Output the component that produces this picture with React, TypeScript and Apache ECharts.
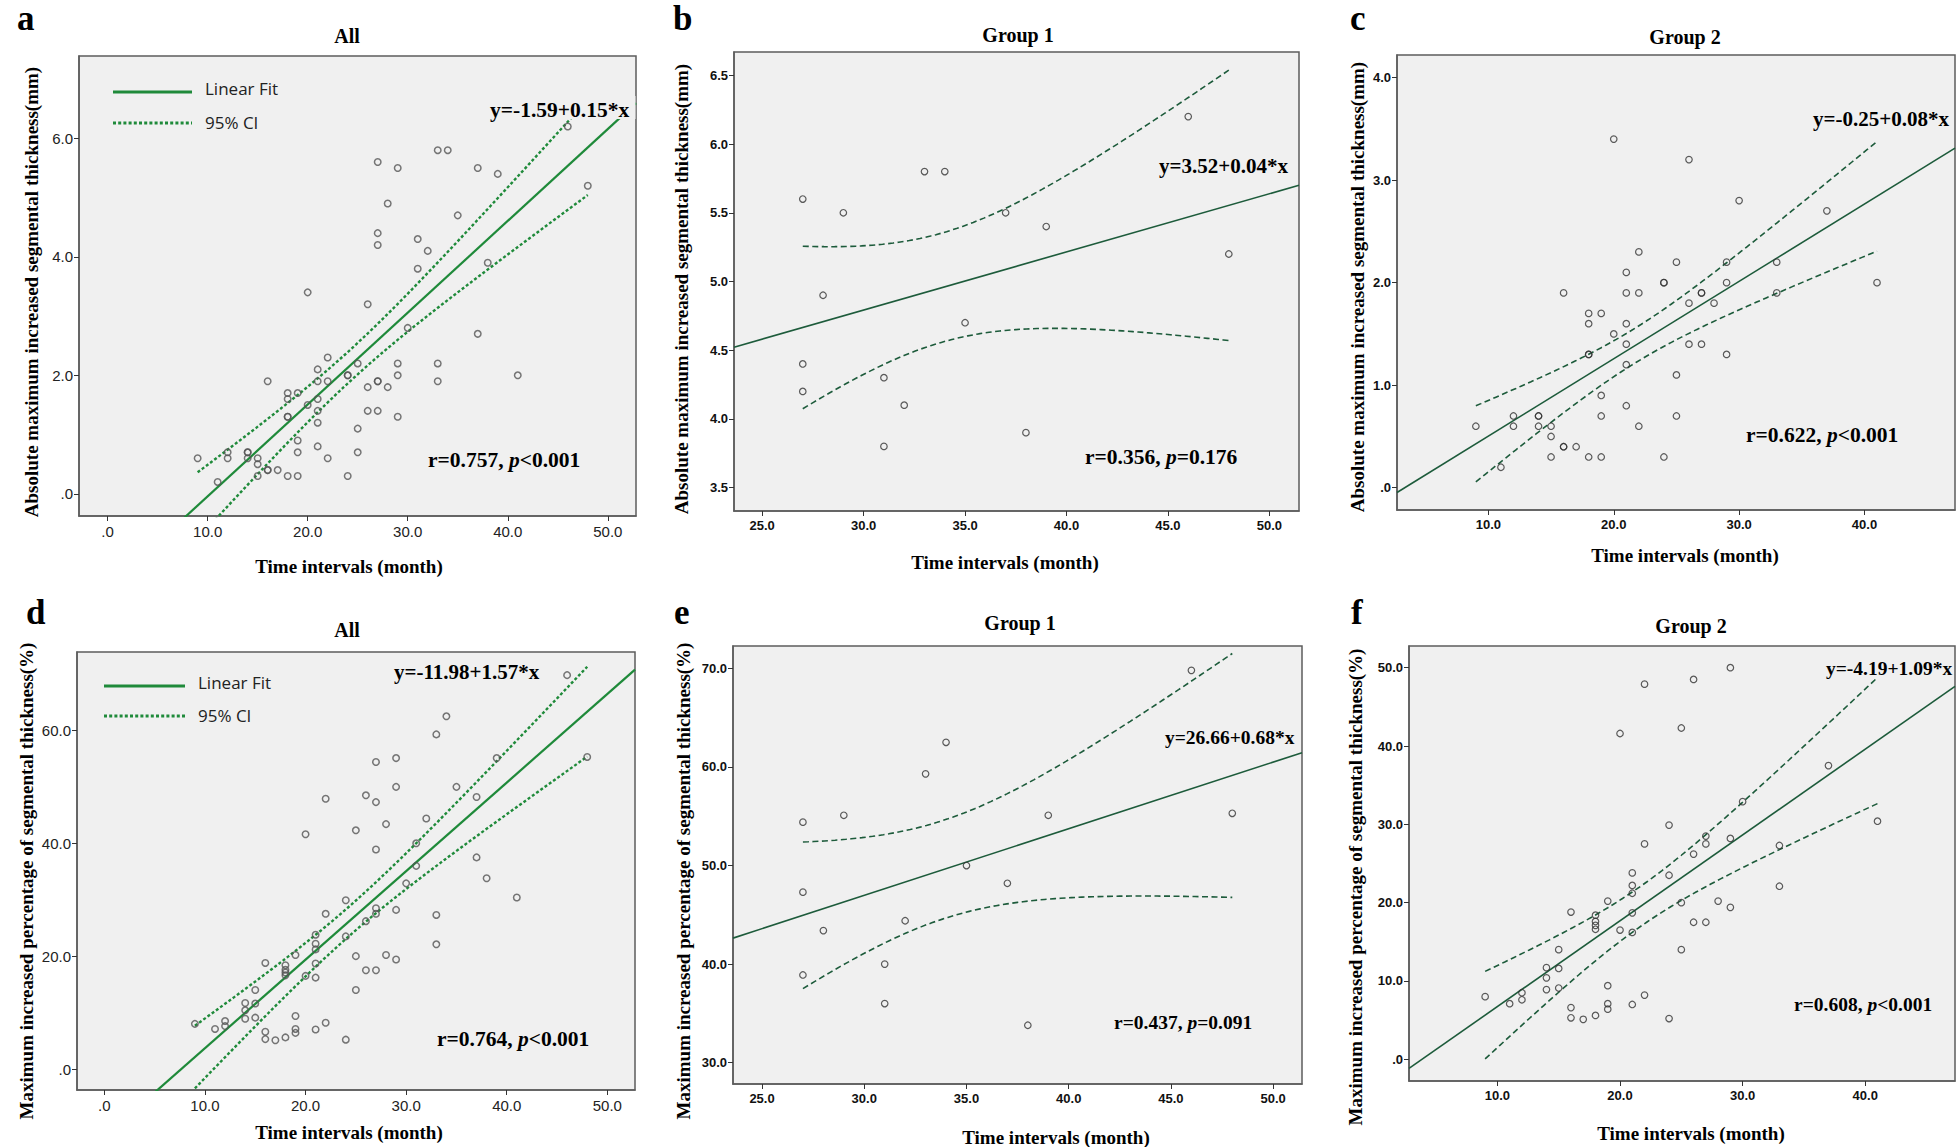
import React, { useEffect, useRef } from "react";
import * as echarts from "echarts";

// ---------- data ----------
// Group 1 (n = 16): time interval (month), absolute increase (mm), percentage increase (%)
const G1_MONTHS = [27, 29, 33, 34, 37, 39, 46, 48, 28, 35, 27, 27, 31, 32, 31, 38];
const G1_ABS_MM = [5.6, 5.5, 5.8, 5.8, 5.5, 5.4, 6.2, 5.2, 4.9, 4.7, 4.4, 4.2, 4.3, 4.1, 3.8, 3.9];
const G1_PCT = [54.4, 55.1, 59.3, 62.5, 48.2, 55.1, 69.8, 55.3, 43.4, 50.0, 47.3, 38.9, 40.0, 44.4, 36.0, 33.8];

// Group 2 (n = 55)
const G2_MONTHS = [9, 11, 12, 12, 14, 14, 14, 15, 15, 15, 16, 16, 16, 17, 18, 18, 18, 18, 18, 19, 19, 19, 19, 20, 20, 21, 21, 21, 21, 21, 21, 22, 22, 22, 24, 24, 24, 25, 25, 25, 26, 26, 26, 27, 27, 27, 28, 29, 29, 29, 30, 33, 33, 37, 41];
const G2_ABS_MM = [0.6, 0.2, 0.7, 0.6, 0.7, 0.7, 0.6, 0.6, 0.5, 0.3, 1.9, 0.4, 0.4, 0.4, 1.7, 1.6, 1.3, 1.3, 0.3, 1.7, 0.9, 0.7, 0.3, 3.4, 1.5, 2.1, 1.9, 1.6, 1.4, 1.2, 0.8, 2.3, 1.9, 0.6, 2.0, 2.0, 0.3, 2.2, 1.1, 0.7, 3.2, 1.8, 1.4, 1.9, 1.9, 1.4, 1.8, 2.2, 2.0, 1.3, 2.8, 2.2, 1.9, 2.7, 2.0];
const G2_PCT = [8.0, 7.1, 8.5, 7.6, 11.7, 10.4, 8.9, 14.0, 11.6, 9.1, 18.8, 6.6, 5.3, 5.1, 18.4, 17.6, 17.1, 16.6, 5.6, 20.2, 9.4, 7.1, 6.4, 41.6, 16.5, 23.8, 22.2, 21.2, 18.7, 16.2, 7.0, 47.9, 27.5, 8.2, 29.9, 23.5, 5.2, 42.3, 20.0, 14.0, 48.5, 26.2, 17.5, 28.5, 27.5, 17.5, 20.2, 50.0, 28.2, 19.4, 32.9, 27.3, 22.1, 37.5, 30.4];

// tick values
const X_TICKS_ALL = [0, 10, 20, 30, 40, 50];
const X_TICKS_G1 = [25, 30, 35, 40, 45, 50];
const X_TICKS_G2 = [10, 20, 30, 40];
const Y_TICKS_ABS_ALL = [0, 2, 4, 6];
const Y_TICKS_ABS_G1 = [3.5, 4, 4.5, 5, 5.5, 6, 6.5];
const Y_TICKS_ABS_G2 = [0, 1, 2, 3, 4];
const Y_TICKS_PCT_ALL = [0, 20, 40, 60];
const Y_TICKS_PCT_G1 = [30, 40, 50, 60, 70];
const Y_TICKS_PCT_G2 = [0, 10, 20, 30, 40, 50];

// texts
const EQUATIONS = ["y=-1.59+0.15*x", "y=3.52+0.04*x", "y=-0.25+0.08*x", "y=-11.98+1.57*x", "y=26.66+0.68*x", "y=-4.19+1.09*x"];
const R_TEXTS = [["r=0.757, ", "<0.001"], ["r=0.356, ", "=0.176"], ["r=0.622, ", "<0.001"], ["r=0.764, ", "<0.001"], ["r=0.437, ", "=0.091"], ["r=0.608, ", "<0.001"]];
const PANEL_LETTERS = ["a", "b", "c", "d", "e", "f"];
const PANEL_TITLES = ["All", "Group 1", "Group 2", "All", "Group 1", "Group 2"];
const Y_TITLE_ABS = "Absolute maximum increased segmental thickness(mm)";
const Y_TITLE_PCT = "Maximum increased percentage of segmental thickness(%)";
const X_TITLE = "Time intervals (month)";

const SERIF = '"Liberation Serif","Times New Roman",serif';
const SANS = '"Liberation Sans",Arial,sans-serif';
const LEGEND_FONT = '"Open Sans","Noto Sans",sans-serif';

const BRIGHT_GREEN = "#1f8a3a";
const DARK_GREEN = "#1d5b3b";
const PLOT_BG = "#f0f0f0";

// ---------- statistics (ordinary least squares + 95% CI of mean) ----------
function tQuantile975(df: number) {
  const z = 1.959964;
  const z3 = z ** 3, z5 = z ** 5, z7 = z ** 7, z9 = z ** 9;
  const g1 = (z3 + z) / 4;
  const g2 = (5 * z5 + 16 * z3 + 3 * z) / 96;
  const g3 = (3 * z7 + 19 * z5 + 17 * z3 - 15 * z) / 384;
  const g4 = (79 * z9 + 776 * z7 + 1482 * z5 - 1920 * z3 - 945 * z) / 92160;
  return z + g1 / df + g2 / df ** 2 + g3 / df ** 3 + g4 / df ** 4;
}

function fit(xs: number[], ys: number[]) {
  const n = xs.length;
  const mx = xs.reduce((a, b) => a + b, 0) / n;
  const my = ys.reduce((a, b) => a + b, 0) / n;
  let sxx = 0, sxy = 0;
  for (let i = 0; i < n; i++) {
    sxx += (xs[i] - mx) ** 2;
    sxy += (xs[i] - mx) * (ys[i] - my);
  }
  const b = sxy / sxx;
  const a = my - b * mx;
  let sse = 0;
  for (let i = 0; i < n; i++) sse += (ys[i] - a - b * xs[i]) ** 2;
  const s = Math.sqrt(sse / (n - 2));
  const t = tQuantile975(n - 2);
  return { a, b, s, t, n, mx, sxx, minX: Math.min(...xs), maxX: Math.max(...xs) };
}

type Layout = {
  grid: { left: number; top: number; width: number; height: number };
  xRange: [number, number];
  yRange: [number, number];
  letter: [number, number];
  title: [number, number];
  eq: [number, number];
  eqSize: number;
  r: [number, number];
  rSize: number;
  xName: [number, number];
  yName: [number, number];
  legend?: { x1: number; x2: number; y1: number; y2: number; tx: number };
  eqBg?: { x: number; y: number; width: number; height: number };
};

const LAYOUTS: Layout[] = [
  { grid: { left: 79, top: 56, width: 557, height: 460 }, xRange: [-2.86, 52.82], yRange: [-0.375, 7.39], letter: [17, 1], title: [347, 36], eq: [490, 110], eqSize: 21.5, r: [428, 460], rSize: 21.5, xName: [349, 566], yName: [31, 292], legend: { x1: 113, x2: 192, y1: 92, y2: 123, tx: 205 }, eqBg: { x: 486, y: 96, width: 149.5, height: 23 } },
  { grid: { left: 734, top: 52, width: 565, height: 459 }, xRange: [23.61, 51.46], yRange: [3.33, 6.67], letter: [673, 1], title: [1018, 35], eq: [1159, 166], eqSize: 21, r: [1085, 457], rSize: 21.5, xName: [1005, 562], yName: [681, 289] },
  { grid: { left: 1397, top: 55, width: 558, height: 455 }, xRange: [2.71, 47.22], yRange: [-0.217, 4.22], letter: [1350, 1], title: [1685, 37], eq: [1813, 119], eqSize: 21, r: [1746, 435], rSize: 21.5, xName: [1685, 555], yName: [1357, 287] },
  { grid: { left: 77, top: 652, width: 558, height: 438 }, xRange: [-2.72, 52.75], yRange: [-3.72, 73.9], letter: [26, 595], title: [347, 630], eq: [394, 672], eqSize: 21, r: [437, 1039], rSize: 21.5, xName: [349, 1132], yName: [26, 881], legend: { x1: 104, x2: 185, y1: 686, y2: 716, tx: 198 } },
  { grid: { left: 733, top: 646, width: 569, height: 438 }, xRange: [23.58, 51.41], yRange: [27.84, 72.27], letter: [674, 595], title: [1020, 623], eq: [1165, 737], eqSize: 19.5, r: [1114, 1022], rSize: 19.5, xName: [1056, 1137], yName: [683, 881] },
  { grid: { left: 1409, top: 646, width: 546, height: 435 }, xRange: [2.79, 47.32], yRange: [-2.77, 52.77], letter: [1351, 595], title: [1691, 626], eq: [1826, 668], eqSize: 19.5, r: [1794, 1004], rSize: 19.5, xName: [1691, 1133], yName: [1355, 887] },
];

const PANEL_DATA = [
  { xs: [...G1_MONTHS, ...G2_MONTHS], ys: [...G1_ABS_MM, ...G2_ABS_MM], xTicks: X_TICKS_ALL, yTicks: Y_TICKS_ABS_ALL, yTitle: Y_TITLE_ABS, all: true },
  { xs: G1_MONTHS, ys: G1_ABS_MM, xTicks: X_TICKS_G1, yTicks: Y_TICKS_ABS_G1, yTitle: Y_TITLE_ABS, all: false },
  { xs: G2_MONTHS, ys: G2_ABS_MM, xTicks: X_TICKS_G2, yTicks: Y_TICKS_ABS_G2, yTitle: Y_TITLE_ABS, all: false },
  { xs: [...G1_MONTHS, ...G2_MONTHS], ys: [...G1_PCT, ...G2_PCT], xTicks: X_TICKS_ALL, yTicks: Y_TICKS_PCT_ALL, yTitle: Y_TITLE_PCT, all: true },
  { xs: G1_MONTHS, ys: G1_PCT, xTicks: X_TICKS_G1, yTicks: Y_TICKS_PCT_G1, yTitle: Y_TITLE_PCT, all: false },
  { xs: G2_MONTHS, ys: G2_PCT, xTicks: X_TICKS_G2, yTicks: Y_TICKS_PCT_G2, yTitle: Y_TITLE_PCT, all: false },
];

const fmt = (v: number) => (Math.abs(v) < 1e-9 ? ".0" : Number(v).toFixed(1));

function buildOption() {
  const grids: any[] = [];
  const xAxes: any[] = [];
  const yAxes: any[] = [];
  const series: any[] = [];
  const graphics: any[] = [];

  PANEL_DATA.forEach((p, i) => {
    const L = LAYOUTS[i];
    const color = p.all ? BRIGHT_GREEN : DARK_GREEN;
    const labelStyle = p.all
      ? { fontFamily: SANS, fontSize: 15, color: "#222" }
      : { fontFamily: SANS, fontSize: 13, fontWeight: "bold", color: "#111" };

    grids.push({ ...L.grid, show: true, backgroundColor: PLOT_BG, borderColor: "#5c5c5c", borderWidth: 1.5, containLabel: false });
    xAxes.push({
      type: "value", gridIndex: i, min: L.xRange[0], max: L.xRange[1],
      splitLine: { show: false },
      axisLine: { show: true, onZero: false, lineStyle: { color: "#5c5c5c", width: 1.5 } },
      axisTick: { show: true, length: 5, customValues: p.xTicks, lineStyle: { color: "#333" } },
      axisLabel: { customValues: p.xTicks, formatter: fmt, margin: 8, ...labelStyle },
    });
    yAxes.push({
      type: "value", gridIndex: i, min: L.yRange[0], max: L.yRange[1],
      splitLine: { show: false },
      axisLine: { show: true, onZero: false, lineStyle: { color: "#5c5c5c", width: 1.5 } },
      axisTick: { show: true, length: 5, customValues: p.yTicks, lineStyle: { color: "#333" } },
      axisLabel: { customValues: p.yTicks, formatter: fmt, margin: 6, ...labelStyle },
    });

    const f = fit(p.xs, p.ys);
    const yhat = (x: number) => f.a + f.b * x;
    const half = (x: number) => f.t * f.s * Math.sqrt(1 / f.n + (x - f.mx) ** 2 / f.sxx);
    const upper: number[][] = [];
    const lower: number[][] = [];
    const steps = 80;
    for (let k = 0; k <= steps; k++) {
      const x = f.minX + ((f.maxX - f.minX) * k) / steps;
      upper.push([x, yhat(x) + half(x)]);
      lower.push([x, yhat(x) - half(x)]);
    }
    const ciStyle = p.all
      ? { color, width: 2.4, type: [3, 2.2] }
      : { color, width: 1.6, type: [6, 3.5] };

    series.push({
      type: "scatter", xAxisIndex: i, yAxisIndex: i, symbol: "circle", symbolSize: 6.5, z: 4,
      itemStyle: { color: "rgba(0,0,0,0)", borderColor: p.all ? "#555" : "#333", borderWidth: p.all ? 1.5 : 1.2 },
      data: p.xs.map((x, k) => [x, p.ys[k]]),
    });
    series.push({
      type: "line", xAxisIndex: i, yAxisIndex: i, symbol: "none", showSymbol: false, clip: true, z: 3,
      lineStyle: { color, width: p.all ? 2.2 : 1.6 },
      data: [[L.xRange[0], yhat(L.xRange[0])], [L.xRange[1], yhat(L.xRange[1])]],
    });
    series.push({ type: "line", xAxisIndex: i, yAxisIndex: i, symbol: "none", showSymbol: false, clip: true, z: 3, lineStyle: ciStyle, data: upper });
    series.push({ type: "line", xAxisIndex: i, yAxisIndex: i, symbol: "none", showSymbol: false, clip: true, z: 3, lineStyle: ciStyle, data: lower });

    // panel letter
    graphics.push({ type: "text", x: L.letter[0], y: L.letter[1], z: 100,
      style: { text: PANEL_LETTERS[i], font: `bold 35px ${SERIF}`, fill: "#000", align: "left", verticalAlign: "top", textAlign: "left", textVerticalAlign: "top" } });
    // title
    graphics.push({ type: "text", x: L.title[0], y: L.title[1], z: 100,
      style: { text: PANEL_TITLES[i], font: `bold 20px ${SERIF}`, fill: "#000", align: "center", verticalAlign: "middle", textAlign: "center", textVerticalAlign: "middle" } });
    // equation (panel a: label box hides the lines behind it, as in the reference)
    if (L.eqBg) {
      graphics.push({ type: "rect", z: 99, shape: { ...L.eqBg }, style: { fill: PLOT_BG } });
    }
    graphics.push({ type: "text", x: L.eq[0], y: L.eq[1], z: 100,
      style: { text: EQUATIONS[i], font: `bold ${L.eqSize}px ${SERIF}`, fill: "#000", align: "left", verticalAlign: "middle", textAlign: "left", textVerticalAlign: "middle" } });
    // r / p text
    graphics.push({ type: "text", x: L.r[0], y: L.r[1], z: 100,
      style: {
        text: `{n|${R_TEXTS[i][0]}}{i|p}{n|${R_TEXTS[i][1]}}`, align: "left", verticalAlign: "middle", textAlign: "left", textVerticalAlign: "middle",
        rich: {
          n: { fontFamily: SERIF, fontWeight: "bold", fontSize: L.rSize, fill: "#000", color: "#000" },
          i: { fontFamily: SERIF, fontWeight: "bold", fontStyle: "italic", fontSize: L.rSize, fill: "#000", color: "#000" },
        },
      } });
    // axis titles
    graphics.push({ type: "text", x: L.xName[0], y: L.xName[1], z: 100,
      style: { text: X_TITLE, font: `bold 19px ${SERIF}`, fill: "#000", align: "center", verticalAlign: "middle", textAlign: "center", textVerticalAlign: "middle" } });
    graphics.push({ type: "text", x: L.yName[0], y: L.yName[1], rotation: Math.PI / 2, z: 100,
      style: { text: p.yTitle, font: `bold 19px ${SERIF}`, fill: "#000", align: "center", verticalAlign: "middle", textAlign: "center", textVerticalAlign: "middle" } });

    if (L.legend) {
      const lg = L.legend;
      graphics.push({ type: "line", z: 100, shape: { x1: lg.x1, y1: lg.y1, x2: lg.x2, y2: lg.y1 }, style: { stroke: BRIGHT_GREEN, lineWidth: 3 } });
      graphics.push({ type: "line", z: 100, shape: { x1: lg.x1, y1: lg.y2, x2: lg.x2, y2: lg.y2 }, style: { stroke: BRIGHT_GREEN, lineWidth: 3, lineDash: [3, 2.2] } });
      graphics.push({ type: "text", x: lg.tx, y: lg.y1 - 4, z: 100,
        style: { text: "Linear Fit", font: `17px ${LEGEND_FONT}`, fill: "#222", align: "left", verticalAlign: "middle", textAlign: "left", textVerticalAlign: "middle" } });
      graphics.push({ type: "text", x: lg.tx, y: lg.y2 - 1, z: 100,
        style: { text: "95% CI", font: `17px ${LEGEND_FONT}`, fill: "#222", align: "left", verticalAlign: "middle", textAlign: "left", textVerticalAlign: "middle" } });
    }
  });

  return {
    animation: false,
    backgroundColor: "#ffffff",
    grid: grids,
    xAxis: xAxes,
    yAxis: yAxes,
    series,
    graphic: { elements: graphics },
  };
}

export default function App() {
  const ref = useRef<HTMLDivElement | null>(null);
  useEffect(() => {
    document.body.style.margin = "0";
    if (!ref.current) return;
    const chart = echarts.init(ref.current, undefined, { renderer: "svg" });
    chart.setOption(buildOption() as any);
    return () => chart.dispose();
  }, []);
  return <div ref={ref} style={{ width: 1960, height: 1147 }} />;
}
